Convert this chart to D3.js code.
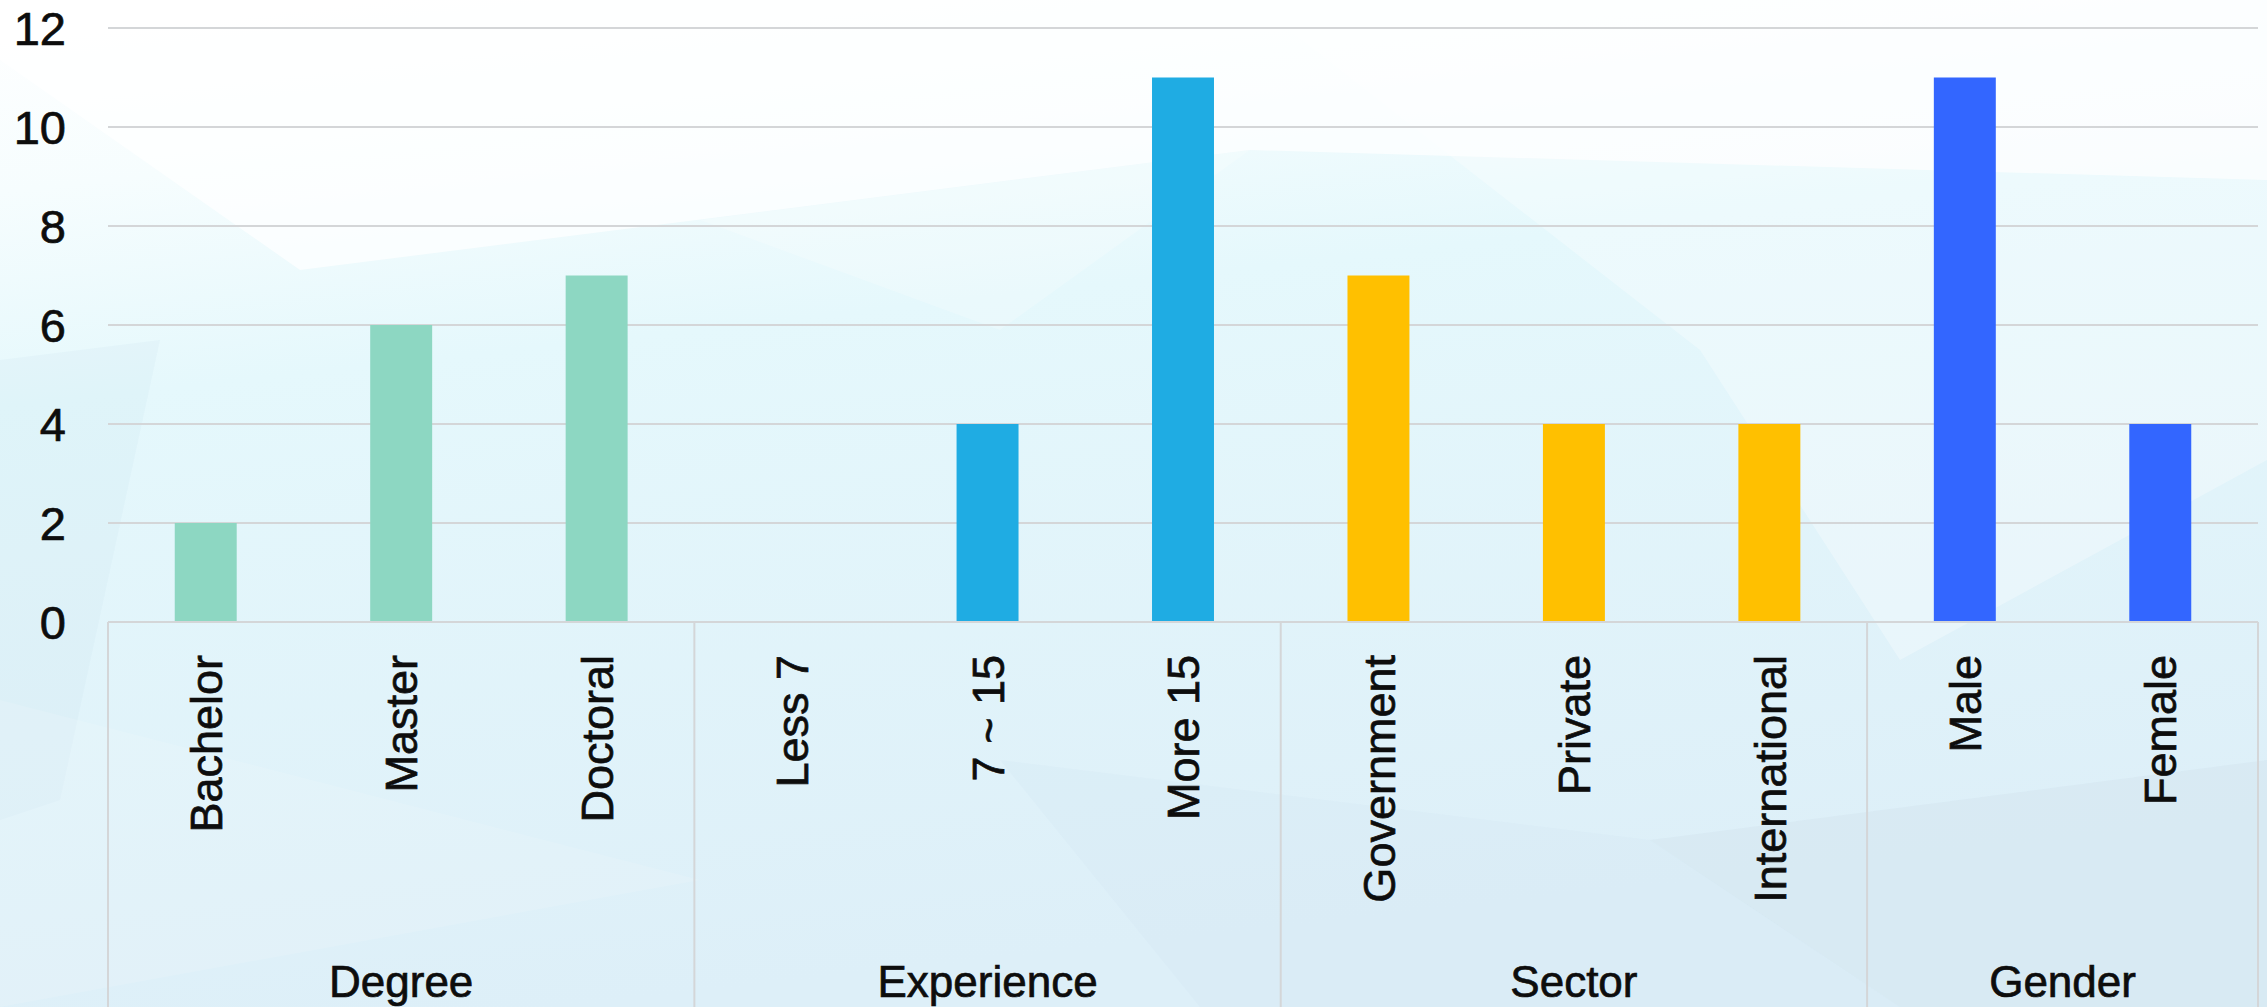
<!DOCTYPE html>
<html>
<head>
<meta charset="utf-8">
<script src="https://cdn.jsdelivr.net/npm/d3@7"></script>
<style>
  html, body { margin: 0; padding: 0; overflow: hidden; }
  body { width: 2267px; height: 1007px; }
  text { font-family: "Liberation Sans", Arial, sans-serif; fill: #0d0d0d; stroke: #0d0d0d; stroke-width: 0.7px; }
</style>
</head>
<body>
<div id="chart"></div>
<script>
// chart data
const groups = ["Degree", "Experience", "Sector", "Gender"];
const categories = ["Bachelor", "Master", "Doctoral", "Less 7", "7 ~ 15", "More 15",
    "Government", "Private", "International", "Male", "Female"];
const categoryGroup = ["Degree", "Degree", "Degree", "Experience", "Experience", "Experience",
    "Sector", "Sector", "Sector", "Gender", "Gender"];
const values = [2, 6, 7, 0, 4, 11, 7, 4, 4, 11, 4];
const yTicks = [0, 2, 4, 6, 8, 10, 12];

const W = 2267, H = 1007;
const margin = { top: 28, right: 9, bottom: 385, left: 108 };
const plotW = W - margin.left - margin.right;
const plotH = H - margin.top - margin.bottom;

const svg = d3.select("#chart").append("svg")
    .attr("width", W)
    .attr("height", H);

// background (decorative low-poly wash)
const defs = svg.append("defs");
const grad = defs.append("linearGradient")
    .attr("id", "bg").attr("x1", 0).attr("y1", 0).attr("x2", 0.25).attr("y2", 1);
grad.append("stop").attr("offset", "0%").attr("stop-color", "#ffffff");
grad.append("stop").attr("offset", "18%").attr("stop-color", "#f6fdfe");
grad.append("stop").attr("offset", "38%").attr("stop-color", "#e5f8fc");
grad.append("stop").attr("offset", "100%").attr("stop-color", "#ddeff8");
svg.append("rect").attr("width", W).attr("height", H).attr("fill", "url(#bg)");

const shapes = [
    { p: [[0, 0], [2267, 0], [2267, 180], [1250, 150], [300, 270], [0, 60]], f: "rgba(255,255,255,0.7)" },
    { p: [[1250, 0], [2267, 0], [2267, 460], [1900, 660], [1700, 350]], f: "rgba(255,255,255,0.3)" },
    { p: [[700, 220], [1250, 150], [1000, 330]], f: "rgba(255,255,255,0.22)" },
    { p: [[0, 360], [160, 340], [60, 800], [0, 820]], f: "rgba(190,220,235,0.14)" },
    { p: [[1650, 840], [2267, 760], [2267, 1007], [1900, 1007]], f: "rgba(180,195,215,0.12)" },
    { p: [[1000, 760], [1650, 840], [1900, 1007], [1200, 1007]], f: "rgba(190,210,228,0.09)" },
    { p: [[0, 700], [700, 880], [0, 1007]], f: "rgba(255,255,255,0.12)" }
];
svg.append("g").selectAll("polygon")
    .data(shapes)
    .join("polygon")
    .attr("points", d => d.p.map(q => q.join(",")).join(" "))
    .attr("fill", d => d.f);

const g = svg.append("g")
    .attr("transform", `translate(${margin.left},${margin.top})`);

// scales
const x = d3.scaleBand()
    .domain(categories)
    .range([0, plotW])
    .paddingInner(0.683)
    .paddingOuter(0.3415);

const y = d3.scaleLinear()
    .domain([0, 12])
    .range([plotH, 0]);

const color = d3.scaleOrdinal()
    .domain(groups)
    .range(["#8dd7c2", "#1facE3", "#ffc000", "#3366ff"]);

// gridlines
g.append("g")
    .selectAll("line")
    .data(yTicks)
    .join("line")
    .attr("x1", 0)
    .attr("x2", plotW)
    .attr("y1", d => y(d))
    .attr("y2", d => y(d))
    .attr("stroke", "#d4d6d8")
    .attr("stroke-width", 2);

// y axis labels
const yAxis = g.append("g")
    .attr("transform", "translate(-42,0)")
    .call(d3.axisLeft(y).tickValues(yTicks).tickSize(0).tickPadding(0));
yAxis.select(".domain").remove();
yAxis.selectAll("text")
    .attr("font-size", 47)
    .attr("font-family", "'Liberation Sans', Arial, sans-serif")
    .attr("fill", "#0d0d0d")
    .attr("dy", "0.36em");

// bars
g.append("g")
    .selectAll("rect")
    .data(categories.map((c, i) => ({ cat: c, group: categoryGroup[i], value: values[i] })))
    .join("rect")
    .attr("x", d => x(d.cat))
    .attr("y", d => y(d.value))
    .attr("width", x.bandwidth())
    .attr("height", d => y(0) - y(d.value))
    .attr("fill", d => color(d.group));

// category axis box
const step = x.step();
const half = (step - x.bandwidth()) / 2;
const bounds = groups.map(gr => {
    const cats = categories.filter((c, i) => categoryGroup[i] === gr);
    const x0 = x(cats[0]) - half;
    const x1 = x(cats[cats.length - 1]) + x.bandwidth() + half;
    return { name: gr, x0: x0, x1: x1 };
});

const axisG = g.append("g").attr("transform", `translate(0,${plotH})`);
axisG.append("line")
    .attr("x1", 0).attr("x2", plotW)
    .attr("y1", 0).attr("y2", 0)
    .attr("stroke", "#d4d6d8").attr("stroke-width", 2);

const dividers = [0].concat(bounds.map(b => b.x1));
axisG.selectAll(".divider")
    .data(dividers)
    .join("line")
    .attr("class", "divider")
    .attr("x1", d => d).attr("x2", d => d)
    .attr("y1", 0).attr("y2", margin.bottom)
    .attr("stroke", "#d4d6d8").attr("stroke-width", 2);

// rotated category labels
axisG.selectAll(".cat-label")
    .data(categories)
    .join("text")
    .attr("class", "cat-label")
    .attr("transform", d => `translate(${x(d) + x.bandwidth() / 2},33) rotate(-90)`)
    .attr("text-anchor", "end")
    .attr("dy", "0.36em")
    .attr("font-size", 45)
    .text(d => d);

// group labels
axisG.selectAll(".group-label")
    .data(bounds)
    .join("text")
    .attr("class", "group-label")
    .attr("x", d => (d.x0 + d.x1) / 2)
    .attr("y", 375)
    .attr("text-anchor", "middle")
    .attr("font-size", 44)
    .text(d => d.name);
</script>
</body>
</html>
